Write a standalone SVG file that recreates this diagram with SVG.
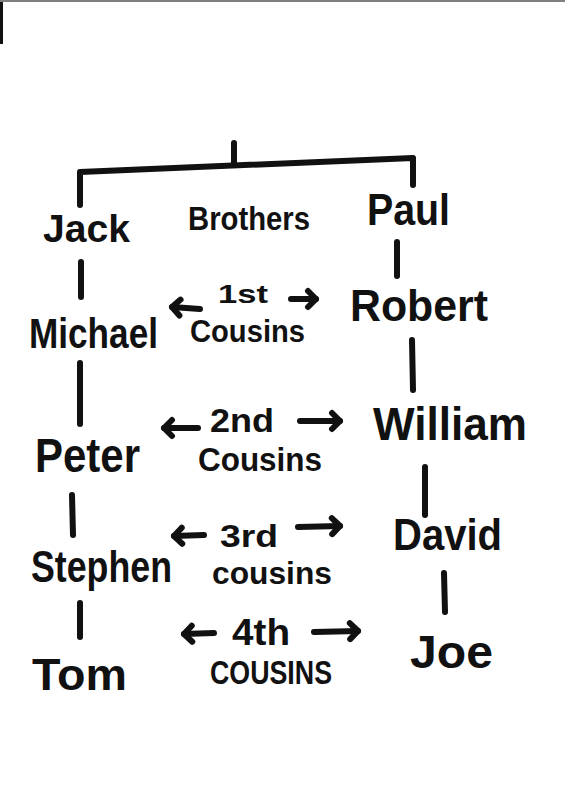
<svg xmlns="http://www.w3.org/2000/svg" width="565" height="799" viewBox="0 0 565 799">
<style>
.ln{stroke:#111;stroke-width:6;stroke-linecap:round;stroke-linejoin:round;fill:none}
.ar{stroke:#111;stroke-width:6;stroke-linecap:round;fill:none;marker-end:url(#hd)}
.nm{font-family:"Liberation Sans",Arial,sans-serif;font-weight:bold;fill:#111}
.lb{font-family:"Liberation Sans",Arial,sans-serif;font-weight:bold;fill:#111}
</style>
<defs>
<marker id="hd" markerUnits="userSpaceOnUse" markerWidth="24" markerHeight="24" refX="14" refY="12" orient="auto">
<path d="M6 4 L14 12 L6 20" stroke="#111" stroke-width="6" stroke-linecap="round" stroke-linejoin="round" fill="none"/>
</marker>
</defs>
<rect width="565" height="799" fill="#fff"/>
<line x1="0" y1="1" x2="565" y2="1" stroke="#555" stroke-width="1.5"/>
<line x1="1.5" y1="2" x2="1.5" y2="44" stroke="#111" stroke-width="3"/>
<g id="connectors">
<path class="ln" d="M234 143 L234 165"/>
<path class="ln" d="M80 205 L80 172 L413 158 L413 185"/>
<path class="ln" d="M81 262 L81 297"/>
<path class="ln" d="M397 242 L397 276"/>
<path class="ln" d="M80 363 L80 424"/>
<path class="ln" d="M412 340 L413 390"/>
<path class="ln" d="M72 495 L73 535"/>
<path class="ln" d="M425 467 L425 515"/>
<path class="ln" d="M80 603 L80 637"/>
<path class="ln" d="M444 573 L445 612"/>
<path class="ar" d="M200 309 L172 307"/>
<path class="ar" d="M291 299 L316 299"/>
<path class="ar" d="M198 428 L164 428"/>
<path class="ar" d="M300 421 L340 421"/>
<path class="ar" d="M204 535 L174 536"/>
<path class="ar" d="M298 527 L340 526"/>
<path class="ar" d="M214 633 L184 634"/>
<path class="ar" d="M314 632 L358 631"/>
</g>
<g id="jack"><text class="nm" x="43" y="242" font-size="38" textLength="87" lengthAdjust="spacingAndGlyphs">Jack</text></g>
<g id="brothers"><text class="lb" x="188" y="230" font-size="34" textLength="122" lengthAdjust="spacingAndGlyphs">Brothers</text></g>
<g id="paul"><text class="nm" x="367" y="225" font-size="44" textLength="83" lengthAdjust="spacingAndGlyphs">Paul</text></g>
<g id="michael"><text class="nm" x="29" y="348" font-size="43" textLength="129" lengthAdjust="spacingAndGlyphs">Michael</text></g>
<g id="robert"><text class="nm" x="350" y="321" font-size="45" textLength="138" lengthAdjust="spacingAndGlyphs">Robert</text></g>
<g id="cousins1"><text class="lb" x="218" y="303" font-size="26" textLength="50" lengthAdjust="spacingAndGlyphs">1st</text><text class="lb" x="190" y="342" font-size="31" textLength="115" lengthAdjust="spacingAndGlyphs">Cousins</text></g>
<g id="peter"><text class="nm" x="35" y="472" font-size="48" textLength="105" lengthAdjust="spacingAndGlyphs">Peter</text></g>
<g id="william"><text class="nm" x="373" y="440" font-size="46" textLength="154" lengthAdjust="spacingAndGlyphs">William</text></g>
<g id="cousins2"><text class="lb" x="210" y="432" font-size="33" textLength="64" lengthAdjust="spacingAndGlyphs">2nd</text><text class="lb" x="198" y="471" font-size="34" textLength="124" lengthAdjust="spacingAndGlyphs">Cousins</text></g>
<g id="stephen"><text class="nm" x="31" y="582" font-size="44" textLength="141" lengthAdjust="spacingAndGlyphs">Stephen</text></g>
<g id="david"><text class="nm" x="393" y="550" font-size="44" textLength="109" lengthAdjust="spacingAndGlyphs">David</text></g>
<g id="cousins3"><text class="lb" x="220" y="547" font-size="32" textLength="58" lengthAdjust="spacingAndGlyphs">3rd</text><text class="lb" x="212" y="584" font-size="32" textLength="120" lengthAdjust="spacingAndGlyphs">cousins</text></g>
<g id="tom"><text class="nm" x="32" y="690" font-size="45" textLength="95" lengthAdjust="spacingAndGlyphs">Tom</text></g>
<g id="joe"><text class="nm" x="410" y="668" font-size="46" textLength="83" lengthAdjust="spacingAndGlyphs">Joe</text></g>
<g id="cousins4"><text class="lb" x="232" y="645" font-size="36" textLength="58" lengthAdjust="spacingAndGlyphs">4th</text><text class="lb" x="210" y="684" font-size="33" textLength="122" lengthAdjust="spacingAndGlyphs">COUSINS</text></g>
</svg>
